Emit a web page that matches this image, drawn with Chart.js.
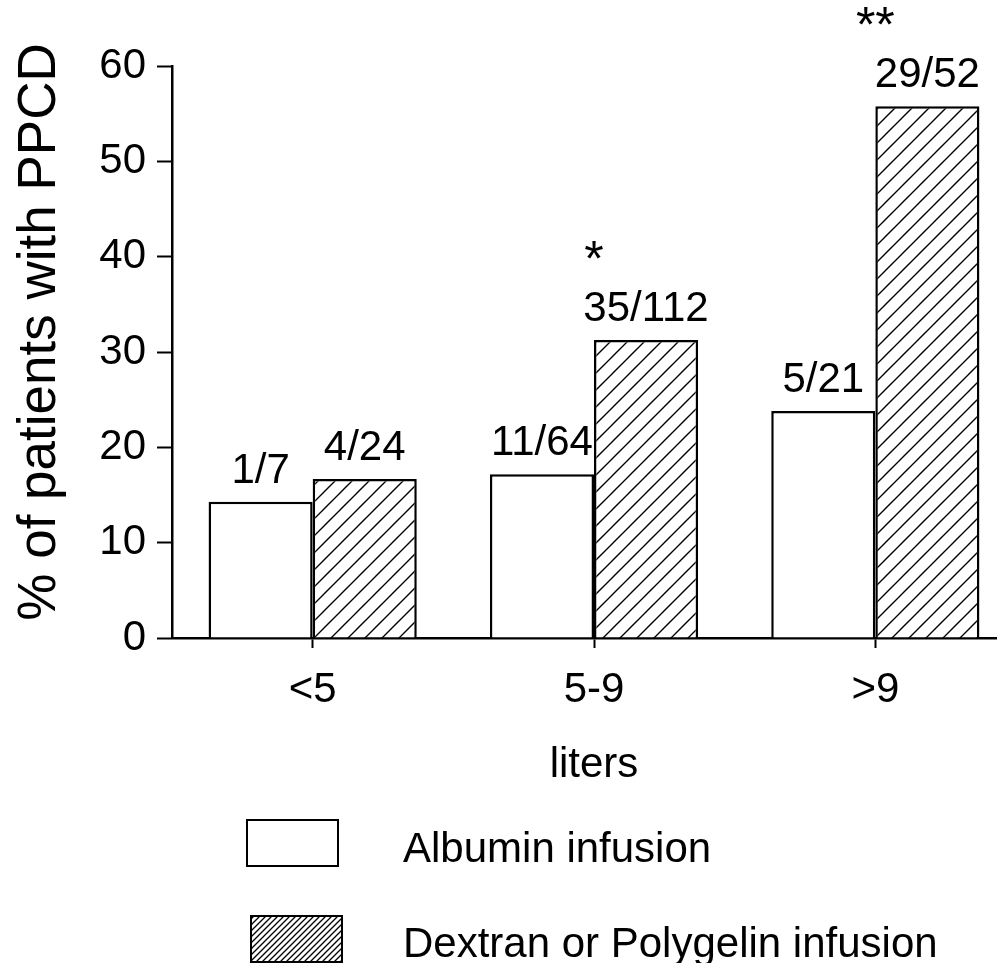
<!DOCTYPE html>
<html>
<head>
<meta charset="utf-8">
<script src="https://cdn.jsdelivr.net/npm/chart.js@4.4.1/dist/chart.umd.min.js"></script>
<style>
  html, body { margin: 0; padding: 0; overflow: hidden; background: #fff; }
  #wrap { width: 1016px; height: 963px; }
</style>
</head>
<body>
<div id="wrap"><canvas id="c" width="1016" height="963"></canvas></div>
<script>
// Infusion volume groups (liters)
const volumeGroups = ['<5', '5-9', '>9'];
// Patients with PPCD / patients treated, per group
const albuminCases = [1, 11, 5];
const albuminPatients = [7, 64, 21];
const dextranCases = [4, 35, 29];
const dextranPatients = [24, 112, 52];
// Significance markers over the dextran/polygelin bars
const significance = ['', '*', '**'];
const legendLabels = ['Albumin infusion', 'Dextran or Polygelin infusion'];
const yTicks = [0, 10, 20, 30, 40, 50, 60];
const yTitle = '% of patients with PPCD';

const FONT = "'Liberation Sans', Arial, Helvetica, sans-serif";

const pct = (cases, totals) => cases.map((c, i) => 100 * c / totals[i]);
const fractions = (cases, totals) => cases.map((c, i) => c + '/' + totals[i]);

// Diagonal line fill ("/" direction)
function hatchPattern(period, lineWidth) {
  const c = document.createElement('canvas');
  c.width = period; c.height = period;
  const g = c.getContext('2d');
  g.fillStyle = '#fff';
  g.fillRect(0, 0, period, period);
  g.strokeStyle = '#000';
  g.lineWidth = lineWidth;
  g.beginPath();
  g.moveTo(-1, period + 1); g.lineTo(period + 1, -1);
  g.moveTo(-period / 2 - 1, period / 2 + 1); g.lineTo(period / 2 + 1, -period / 2 - 1);
  g.moveTo(period / 2 - 1, period * 1.5 + 1); g.lineTo(period * 1.5 + 1, period / 2 - 1);
  g.stroke();
  return g.createPattern(c, 'repeat');
}

const barHatch = hatchPattern(17, 1.4);
const legendHatch = hatchPattern(6, 1.3);

const whiteBackground = {
  id: 'whiteBackground',
  beforeDraw(chart) {
    const ctx = chart.ctx;
    ctx.save();
    ctx.fillStyle = '#fff';
    ctx.fillRect(0, 0, chart.width, chart.height);
    ctx.restore();
  }
};

// Rotated y-axis title, centred a little above the plot middle
const yAxisTitle = {
  id: 'yAxisTitle',
  afterDraw(chart) {
    const ctx = chart.ctx;
    const area = chart.chartArea;
    ctx.save();
    ctx.translate(40, (area.top + area.bottom) / 2 - 20);
    ctx.rotate(-Math.PI / 2);
    ctx.fillStyle = '#000';
    ctx.font = '53px ' + FONT;
    ctx.textAlign = 'center';
    ctx.textBaseline = 'middle';
    ctx.fillText(yTitle, 0, 0);
    ctx.restore();
  }
};

// Fraction labels above each bar, plus significance stars
const barLabels = {
  id: 'barLabels',
  afterDatasetsDraw(chart) {
    const ctx = chart.ctx;
    ctx.save();
    ctx.fillStyle = '#000';
    ctx.textAlign = 'center';
    ctx.textBaseline = 'alphabetic';
    ctx.font = '42px ' + FONT;
    chart.data.datasets.forEach((ds, di) => {
      const meta = chart.getDatasetMeta(di);
      meta.data.forEach((bar, i) => {
        ctx.fillText(ds.fractionLabels[i], bar.x, bar.y - 19);
      });
    });
    const dMeta = chart.getDatasetMeta(1);
    const xScale = chart.scales.x;
    ctx.font = '50px ' + FONT;
    dMeta.data.forEach((bar, i) => {
      if (!significance[i]) return;
      ctx.fillText(significance[i], xScale.getPixelForValue(i), bar.y - 64);
    });
    ctx.restore();
  }
};

// Stacked legend below the axis title
const boxLegend = {
  id: 'boxLegend',
  afterDraw(chart) {
    const ctx = chart.ctx;
    const rows = [
      { box: [247, 820, 91, 46], textY: 862 },
      { box: [251, 916, 91, 46], textY: 957 }
    ];
    ctx.save();
    rows.forEach((r, i) => {
      const ds = chart.data.datasets[i];
      const [x, y, w, h] = r.box;
      ctx.fillStyle = i === 0 ? ds.backgroundColor : legendHatch;
      ctx.fillRect(x, y, w, h);
      ctx.strokeStyle = '#000';
      ctx.lineWidth = 2;
      ctx.strokeRect(x, y, w, h);
      ctx.fillStyle = '#000';
      ctx.font = '42px ' + FONT;
      ctx.textAlign = 'left';
      ctx.textBaseline = 'alphabetic';
      ctx.fillText(legendLabels[i], 403, r.textY);
    });
    ctx.restore();
  }
};

new Chart(document.getElementById('c'), {
  type: 'bar',
  data: {
    labels: volumeGroups,
    datasets: [
      {
        label: legendLabels[0],
        data: pct(albuminCases, albuminPatients),
        fractionLabels: fractions(albuminCases, albuminPatients),
        backgroundColor: '#ffffff',
        borderColor: '#000000',
        borderWidth: 2.5,
        borderSkipped: 'bottom'
      },
      {
        label: legendLabels[1],
        data: pct(dextranCases, dextranPatients),
        fractionLabels: fractions(dextranCases, dextranPatients),
        backgroundColor: barHatch,
        borderColor: '#000000',
        borderWidth: 2.5,
        borderSkipped: 'bottom'
      }
    ]
  },
  options: {
    responsive: false,
    animation: false,
    events: [],
    layout: { padding: { left: 0, top: 66, right: 0, bottom: 168 } },
    categoryPercentage: 0.74,
    barPercentage: 1.0,
    plugins: {
      legend: { display: false },
      tooltip: { enabled: false },
      title: { display: false }
    },
    scales: {
      x: {
        type: 'category',
        offset: true,
        grid: {
          offset: false,
          drawOnChartArea: false,
          drawTicks: true,
          tickLength: 10,
          tickWidth: 2,
          tickColor: '#000'
        },
        border: { display: true, color: '#000', width: 2.5 },
        ticks: {
          color: '#000',
          font: { family: FONT, size: 42 },
          padding: 17,
          maxRotation: 0,
          autoSkip: false
        },
        title: {
          display: true,
          text: 'liters',
          color: '#000',
          font: { family: FONT, size: 42 },
          padding: { top: 4, bottom: 4 }
        },
        afterFit(scale) { scale.height = 157; }
      },
      y: {
        min: 0,
        max: 60,
        afterBuildTicks(scale) { scale.ticks = yTicks.map(v => ({ value: v })); },
        grid: {
          drawOnChartArea: false,
          drawTicks: true,
          tickLength: 15,
          tickWidth: 2,
          tickColor: '#000'
        },
        border: { display: true, color: '#000', width: 2.5 },
        ticks: {
          color: '#000',
          font: { family: FONT, size: 42 },
          padding: 11
        },
        title: { display: false },
        afterFit(scale) { scale.width = 172; }
      }
    }
  },
  plugins: [whiteBackground, yAxisTitle, barLabels, boxLegend]
});
</script>
</body>
</html>
